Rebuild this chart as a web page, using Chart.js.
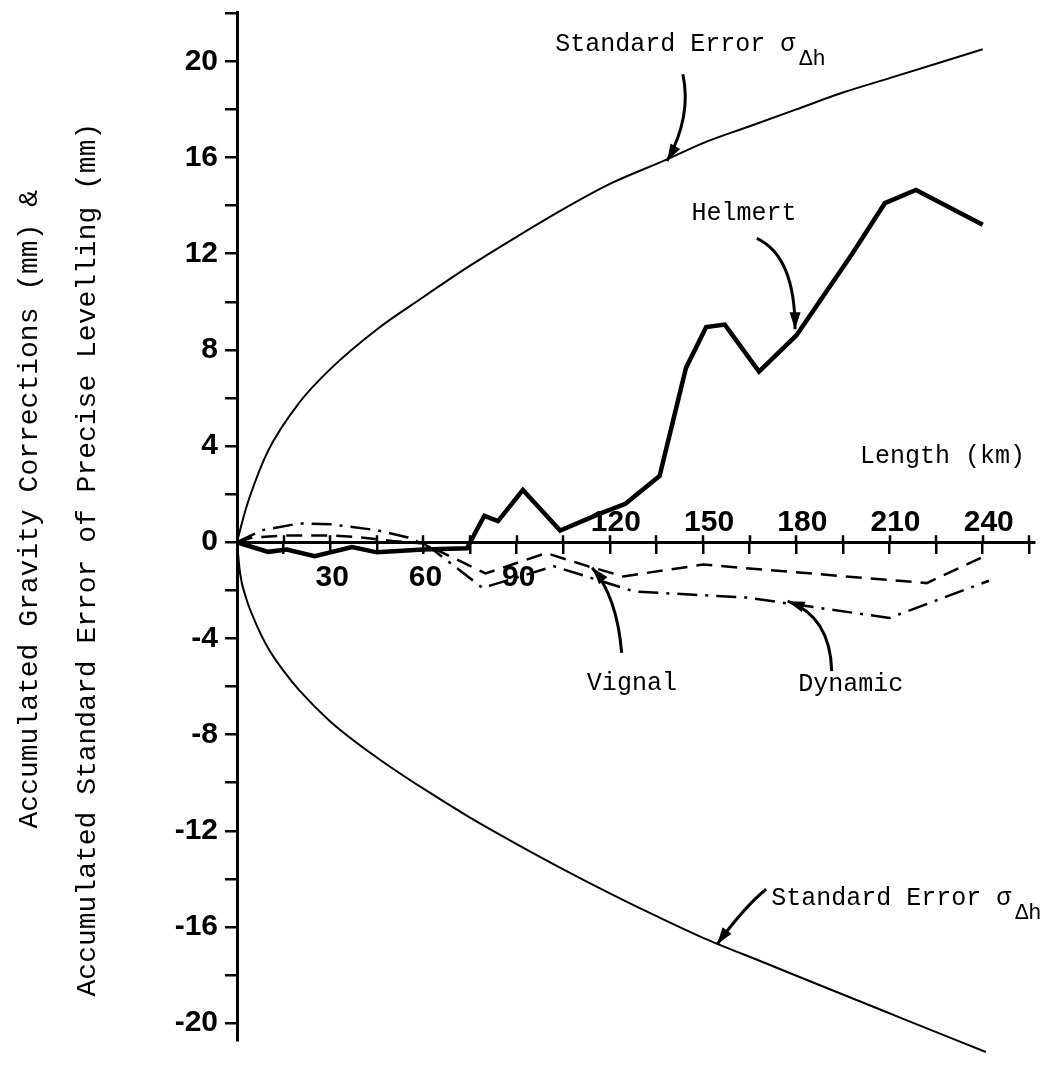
<!DOCTYPE html>
<html>
<head>
<meta charset="utf-8">
<script src="https://cdn.jsdelivr.net/npm/chart.js@4.4.1/dist/chart.umd.min.js"></script>
<style>
  html, body { margin: 0; padding: 0; background: #fff; }
  canvas { display: block; }
</style>
</head>
<body>
<canvas id="myChart" width="1045" height="1073"></canvas>
<script>
// values: length in km, corrections / errors in mm
var sigmaUpKm = [0, 2, 4, 10, 20, 30, 45, 60, 75, 90, 105, 120, 138, 150, 165, 180, 195, 210, 225, 240];
var sigmaUpMm = [0, 1.0, 1.85, 3.8, 5.8, 7.2, 8.85, 10.2, 11.5, 12.7, 13.85, 14.9, 15.9, 16.6, 17.3, 18.0, 18.7, 19.3, 19.9, 20.5];

var sigmaLowKm = [0, 1, 3, 6, 10, 15, 20, 30, 45, 60, 75, 90, 105, 120, 135, 150, 170, 190, 215, 241];
var sigmaLowMm = [0, -1.3, -2.35, -3.35, -4.4, -5.35, -6.15, -7.45, -8.95, -10.25, -11.45, -12.55, -13.6, -14.6, -15.55, -16.45, -17.5, -18.55, -19.85, -21.2];

var helmertKm = [0, 10, 16, 25, 37, 45, 60, 74, 79.6, 84, 92, 104, 117, 125, 136, 144.5, 151, 157, 168, 180, 198, 208.5, 218.5, 240];
var helmertMm = [0, -0.4, -0.3, -0.58, -0.2, -0.42, -0.3, -0.25, 1.1, 0.88, 2.17, 0.49, 1.2, 1.6, 2.75, 7.25, 8.95, 9.05, 7.1, 8.6, 12.0, 14.1, 14.65, 13.2];

var vignalKm = [0, 5, 15, 30, 40, 50, 60, 80, 99.5, 113, 124.3, 150, 222, 241];
var vignalMm = [0, 0.2, 0.28, 0.28, 0.2, 0.05, -0.05, -1.3, -0.45, -1.0, -1.42, -0.93, -1.7, -0.55];

var dynamicKm = [0, 8, 20, 30, 45, 55, 62, 79, 102, 128, 164, 210, 242];
var dynamicMm = [0, 0.5, 0.78, 0.75, 0.5, 0.2, -0.2, -1.9, -1.0, -2.05, -2.3, -3.15, -1.6];

var yLabelled = [-20, -16, -12, -8, -4, 0, 4, 8, 12, 16, 20];
var xLabelsBelow = [30, 60, 90];
var xLabelsAbove = [120, 150, 180, 210, 240];

function pts(xs, ys) {
    return xs.map(function (x, i) { return { x: x, y: ys[i] }; });
}

// text notes and their arrows, placed in data units
var notes = [
    { text: 'Standard Error \u03c3', sub: '\u0394h', at: [102.4, 20.7], arrow: [[143.5, 19.46], [146.4, 17.7], [138.4, 15.85]] },
    { text: 'Helmert', at: [146.3, 13.69], arrow: [[167.3, 12.64], [179.6, 11.9], [179.6, 8.86]] },
    { text: 'Vignal', at: [112.6, -5.85], arrow: [[123.8, -4.6], [122.3, -2.25], [114.3, -1.06]] },
    { text: 'Dynamic', at: [180.6, -5.92], arrow: [[191.4, -5.36], [190.9, -3.08], [177.2, -2.45]] },
    { text: 'Length (km)', at: [200.5, 3.58] },
    { text: 'Standard Error \u03c3', sub: '\u0394h', at: [171.9, -14.8], arrow: [[170.3, -14.43], [163.5, -15.13], [154.5, -16.72]] }
];

var monoFont = '"Liberation Mono", "Courier New", monospace';
var numFont = '"Liberation Sans", Arial, sans-serif';

function drawArrow(ctx, p0, c, p1) {
    ctx.beginPath();
    ctx.moveTo(p0[0], p0[1]);
    ctx.quadraticCurveTo(c[0], c[1], p1[0], p1[1]);
    ctx.stroke();
    var a = Math.atan2(p1[1] - c[1], p1[0] - c[0]);
    var len = 17, w = 5.5;
    var bx = p1[0] - len * Math.cos(a), by = p1[1] - len * Math.sin(a);
    ctx.beginPath();
    ctx.moveTo(p1[0], p1[1]);
    ctx.lineTo(bx + w * Math.sin(a), by - w * Math.cos(a));
    ctx.lineTo(bx - w * Math.sin(a), by + w * Math.cos(a));
    ctx.closePath();
    ctx.fill();
}

var annotate = {
    id: 'annotate',
    afterDraw: function (chart) {
        var ctx = chart.ctx;
        var xs = chart.scales.x, ys = chart.scales.y;
        var y0 = ys.getPixelForValue(0);
        ctx.save();
        ctx.strokeStyle = '#000';
        ctx.fillStyle = '#000';

        // chart.js draws the x tick marks downward only, add the upper part
        ctx.lineWidth = 2.5;
        xs.ticks.forEach(function (t) {
            if (t.value === 0) return;
            var px = Math.round(xs.getPixelForValue(t.value));
            ctx.beginPath();
            ctx.moveTo(px, y0);
            ctx.lineTo(px, y0 - 7);
            ctx.stroke();
        });

        ctx.font = 'bold 30px ' + numFont;
        ctx.textAlign = 'center';
        ctx.textBaseline = 'middle';
        xLabelsBelow.forEach(function (v) {
            ctx.fillText(String(v), xs.getPixelForValue(v) + 2, y0 + 36);
        });
        xLabelsAbove.forEach(function (v) {
            ctx.fillText(String(v), xs.getPixelForValue(v) + 6, y0 - 19);
        });

        ctx.textAlign = 'left';
        ctx.lineWidth = 3;
        notes.forEach(function (n) {
            var tx = xs.getPixelForValue(n.at[0]), ty = ys.getPixelForValue(n.at[1]);
            ctx.font = '25px ' + monoFont;
            ctx.fillText(n.text, tx, ty);
            if (n.sub) {
                var w = ctx.measureText(n.text).width;
                ctx.font = '22px ' + monoFont;
                ctx.fillText(n.sub, tx + w + 4, ty + 15);
            }
            if (n.arrow) {
                var p = n.arrow.map(function (q) {
                    return [xs.getPixelForValue(q[0]), ys.getPixelForValue(q[1])];
                });
                drawArrow(ctx, p[0], p[1], p[2]);
            }
        });
        ctx.restore();
    }
};

var ctx = document.getElementById('myChart');

new Chart(ctx, {
    type: 'line',
    data: {
        datasets: [
            {
                label: 'Standard Error',
                data: pts(sigmaUpKm, sigmaUpMm),
                borderColor: '#000',
                borderWidth: 2,
                cubicInterpolationMode: 'monotone',
                pointRadius: 0,
                clip: false
            },
            {
                label: 'Standard Error (lower)',
                data: pts(sigmaLowKm, sigmaLowMm),
                borderColor: '#000',
                borderWidth: 2,
                cubicInterpolationMode: 'monotone',
                pointRadius: 0,
                clip: false
            },
            {
                label: 'Helmert',
                data: pts(helmertKm, helmertMm),
                borderColor: '#000',
                borderWidth: 4.5,
                borderJoinStyle: 'miter',
                pointRadius: 0,
                clip: false
            },
            {
                label: 'Vignal',
                data: pts(vignalKm, vignalMm),
                borderColor: '#000',
                borderWidth: 2.5,
                borderDash: [16, 9],
                pointRadius: 0,
                clip: false
            },
            {
                label: 'Dynamic',
                data: pts(dynamicKm, dynamicMm),
                borderColor: '#000',
                borderWidth: 2.5,
                borderDash: [20, 8, 3, 8],
                pointRadius: 0,
                clip: false
            }
        ]
    },
    options: {
        responsive: false,
        animation: false,
        events: [],
        layout: { padding: { top: 12, bottom: 33, left: 0, right: 11 } },
        plugins: {
            legend: { display: false },
            tooltip: { enabled: false }
        },
        scales: {
            x: {
                type: 'linear',
                position: { y: 0 },
                min: 0,
                max: 256.5,
                ticks: { display: false, stepSize: 15, includeBounds: false },
                grid: { drawOnChartArea: false, tickLength: 10, color: '#000', lineWidth: 2.5 },
                border: { color: '#000', width: 3 }
            },
            y: {
                type: 'linear',
                position: 'left',
                min: -20.7,
                max: 22.05,
                afterFit: function (scale) {
                    scale.width = 237;
                    scale.paddingTop = 0;
                    scale.paddingBottom = 0;
                },
                ticks: {
                    stepSize: 2,
                    includeBounds: false,
                    autoSkip: false,
                    padding: 7,
                    color: '#000',
                    font: { family: numFont, size: 30, weight: 'bold' },
                    callback: function (v) { return yLabelled.indexOf(v) >= 0 ? String(v) : ''; }
                },
                grid: { drawOnChartArea: false, tickLength: 12, color: '#000', lineWidth: 2.5 },
                border: { color: '#000', width: 3 },
                title: {
                    display: true,
                    text: ['  Accumulated Gravity Corrections (mm) &', 'Accumulated Standard Error of Precise Levelling (mm)    '],
                    color: '#000',
                    font: { family: monoFont, size: 28, lineHeight: 2.07 },
                    padding: { top: 1, bottom: 0 }
                }
            }
        }
    },
    plugins: [annotate]
});
</script>
</body>
</html>
